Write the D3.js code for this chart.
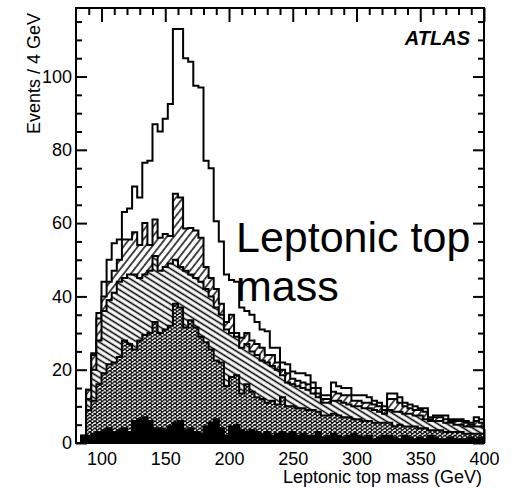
<!DOCTYPE html>
<html>
<head>
<meta charset="utf-8">
<script src="https://cdn.jsdelivr.net/npm/d3@7"></script>
<style>
  body { margin: 0; background: #fff; }
  svg { display: block; font-family: 'Liberation Sans', Arial, sans-serif; }
</style>
</head>
<body>
<svg id="svg" width="513" height="488"></svg>
<script>
const LEFT = 76
const RIGHT = 484
const TOP = 8
const BOTTOM = 443
const LINE_W = 2

const BIN_LO = 80
const BIN_W = 4

// stacked histograms, 4 GeV bins from 80 to 400 GeV
// every array is the sum of its own sample and all samples drawn below it
const totalTop = [
  0, 2, 14.5, 24.5, 35.5, 44, 50, 54.5, 55.5, 63,
  64, 70, 67, 76.5, 77, 87, 85, 88.5, 92.5, 113,
  113, 105, 104, 97.5, 97, 77, 75, 60.5, 55, 46,
  44.5, 44, 37, 36, 35, 33, 31, 30.5, 26, 26,
  22, 21.5, 19.5, 19, 19, 18.5, 16.5, 15, 13, 13,
  16.5, 15.5, 15, 15, 13, 13, 13, 12.5, 11.5, 11,
  10, 13.5, 13.5, 12.5, 11, 10.5, 10, 9.5, 9.5, 7,
  7.5, 7.5, 7.5, 6.5, 6.5, 6.5, 6, 5.5, 7, 6.5
]
const fwdTop = [
  0, 2, 14.5, 24, 34, 40, 44, 47, 50, 55.5,
  55.5, 57.5, 54, 60, 54, 61, 56, 57, 56.5, 68,
  67, 58.5, 58.7, 58, 56, 48, 45, 42, 38, 33,
  35, 30, 28.7, 30, 28, 27, 26, 24, 24, 22,
  20, 19, 17.5, 17, 16.5, 16, 15, 13.5, 12, 12,
  14, 13.5, 13, 13, 11.5, 11.5, 11, 11, 10.5, 10,
  9, 12, 12, 11, 10, 9.5, 9, 9, 8.5, 6.5,
  7, 7, 6.5, 6, 6, 6, 5.5, 5, 6, 5.5
]
const backTop = [
  0, 2, 12, 20, 28, 36, 39, 41, 44, 45,
  46, 46, 45, 46, 47, 51, 47, 48, 49, 50,
  48, 47, 46, 45, 44, 42, 40, 37, 35, 31,
  30, 29, 26, 27, 25, 24, 22.5, 22, 21, 20,
  18.5, 16.5, 16, 15.5, 15, 14.5, 13.5, 12.5, 11, 11,
  11.5, 11.5, 11, 10.5, 10, 10, 9.5, 9.5, 9, 8.5,
  8, 9, 8.5, 8.5, 8, 8, 7.5, 7.5, 6.5, 6,
  6, 6, 5.5, 5.5, 5, 5, 4.5, 4.5, 4.5, 4.5
]
const crossTop = [
  0, 1.5, 9, 11.5, 16, 19, 21.5, 22, 23.5, 28,
  27, 25.5, 28, 29.5, 30, 33, 30, 31, 32, 38,
  37, 31.5, 33.5, 31.5, 29, 27.5, 25.5, 22.5, 22, 15.5,
  18, 18.5, 13.5, 16, 14, 12.5, 12, 11, 11.5, 10.5,
  12.5, 10, 10, 9.5, 9.5, 9, 9, 8.5, 7.5, 7.5,
  8, 7.5, 7, 7, 6.5, 6.5, 6, 6, 5.5, 5.5,
  5.5, 5.5, 4.5, 5, 4.5, 4.5, 4.5, 4, 4, 3.5,
  3.5, 3.5, 3, 3, 3, 3, 2.5, 2.5, 2.5, 2.5
]
const blackTop = [
  0, 1.5, 2, 2.5, 3, 3.5, 4, 3, 3.5, 4,
  3, 6, 6.5, 7, 6, 4, 4, 3.5, 4.5, 5.5,
  6, 3.5, 4, 3, 2.5, 4.5, 5.5, 6.5, 4, 2,
  4.5, 5, 3.5, 3, 3.5, 3, 2.5, 3, 2, 2.5,
  3, 2.5, 3, 2, 2.5, 2, 2, 3, 1.5, 2,
  2.5, 2, 1.5, 2, 2.5, 2, 1.5, 2, 1, 1.5,
  2, 2, 1.5, 1, 2, 1.5, 1, 1.5, 1, 2,
  1.5, 1, 1, 1.5, 1, 1, 1, 1.5, 1, 1.5
]

const xMajor = [100, 150, 200, 250, 300, 350, 400]
const xMinor = [90, 110, 120, 130, 140, 160, 170, 180, 190, 210, 220, 230, 240,
  260, 270, 280, 290, 310, 320, 330, 340, 360, 370, 380, 390]
const yMajor = [0, 20, 40, 60, 80, 100]
const yMinor = [5, 10, 15, 25, 30, 35, 45, 50, 55, 65, 70, 75, 85, 90, 95, 105, 110, 115]

const svg = d3.select('svg')
const x = d3.scaleLinear().domain([80, 400]).range([LEFT, RIGHT])
const y = d3.scaleLinear().domain([0, 118.7]).range([BOTTOM, TOP])

const defs = svg.append('defs')

function hatch (id, size, angle, width) {
  const p = defs.append('pattern')
    .attr('id', id)
    .attr('patternUnits', 'userSpaceOnUse')
    .attr('width', size)
    .attr('height', size)
    .attr('patternTransform', 'rotate(' + angle + ')')
  p.append('rect').attr('width', size).attr('height', size).attr('fill', '#fff')
  p.append('line')
    .attr('x1', -1).attr('x2', size + 1)
    .attr('y1', size / 2).attr('y2', size / 2)
    .attr('stroke', '#000')
    .attr('stroke-width', width)
}
hatch('fwd', 5.6, -52, 1.4)
hatch('back', 5, 32, 1.6)

const cw = 5
const ch = 3.6
const cross = defs.append('pattern')
  .attr('id', 'cross')
  .attr('patternUnits', 'userSpaceOnUse')
  .attr('width', cw)
  .attr('height', ch)
cross.append('rect').attr('width', cw).attr('height', ch).attr('fill', '#fff')
cross.append('path')
  .attr('d', 'M0,0L' + cw + ',' + ch + 'M0,' + ch + 'L' + cw + ',0')
  .attr('stroke', '#000')
  .attr('stroke-width', 1.2)

defs.append('clipPath').attr('id', 'plot')
  .append('rect')
  .attr('x', LEFT).attr('y', TOP)
  .attr('width', RIGHT - LEFT).attr('height', BOTTOM - TOP)

// axes (ticks inside the frame, like ROOT)
function styleAxis (g) {
  g.select('.domain').remove()
  g.selectAll('.tick line').attr('stroke', '#000').attr('stroke-width', LINE_W)
  g.selectAll('.tick text').attr('fill', '#000').attr('font-size', 18)
    .attr('font-family', "'Liberation Sans', Arial, sans-serif")
}

svg.append('g').attr('transform', 'translate(0,' + BOTTOM + ')')
  .call(d3.axisBottom(x).tickValues(xMajor).tickSize(-14).tickPadding(9))
  .call(styleAxis)
svg.append('g').attr('transform', 'translate(0,' + BOTTOM + ')')
  .call(d3.axisBottom(x).tickValues(xMinor).tickSize(-7).tickFormat(''))
  .call(styleAxis)
svg.append('g').attr('transform', 'translate(0,' + TOP + ')')
  .call(d3.axisTop(x).tickValues(xMajor).tickSize(-14).tickFormat(''))
  .call(styleAxis)
svg.append('g').attr('transform', 'translate(0,' + TOP + ')')
  .call(d3.axisTop(x).tickValues(xMinor).tickSize(-7).tickFormat(''))
  .call(styleAxis)
svg.append('g').attr('transform', 'translate(' + LEFT + ',0)')
  .call(d3.axisLeft(y).tickValues(yMajor).tickSize(-11).tickPadding(4))
  .call(styleAxis)
svg.append('g').attr('transform', 'translate(' + LEFT + ',0)')
  .call(d3.axisLeft(y).tickValues(yMinor).tickSize(-6).tickFormat(''))
  .call(styleAxis)
svg.append('g').attr('transform', 'translate(' + RIGHT + ',0)')
  .call(d3.axisRight(y).tickValues(yMajor).tickSize(-11).tickFormat(''))
  .call(styleAxis)
svg.append('g').attr('transform', 'translate(' + RIGHT + ',0)')
  .call(d3.axisRight(y).tickValues(yMinor).tickSize(-6).tickFormat(''))
  .call(styleAxis)

// histograms, biggest sum first so lower samples sit on top of it
const stepArea = d3.area()
  .curve(d3.curveStepAfter)
  .x(d => x(d[0]))
  .y0(y(0))
  .y1(d => y(d[1]))

function toSteps (vals) {
  const pts = vals.map((v, i) => [BIN_LO + i * BIN_W, v])
  pts.push([BIN_LO + vals.length * BIN_W, vals[vals.length - 1]])
  return pts
}

const layers = [
  { vals: totalTop, fill: '#fff' },
  { vals: fwdTop, fill: 'url(#fwd)' },
  { vals: backTop, fill: 'url(#back)' },
  { vals: crossTop, fill: 'url(#cross)' },
  { vals: blackTop, fill: '#000' }
]

const hg = svg.append('g').attr('clip-path', 'url(#plot)')
hg.selectAll('path')
  .data(layers)
  .join('path')
  .attr('d', d => stepArea(toSteps(d.vals)))
  .attr('fill', d => d.fill)
  .attr('stroke', '#000')
  .attr('stroke-width', LINE_W)
  .attr('stroke-linejoin', 'miter')

// frame
svg.append('rect')
  .attr('x', LEFT).attr('y', TOP)
  .attr('width', RIGHT - LEFT).attr('height', BOTTOM - TOP)
  .attr('fill', 'none')
  .attr('stroke', '#000')
  .attr('stroke-width', 2)

// titles
svg.append('text')
  .attr('x', 482).attr('y', 483)
  .attr('text-anchor', 'end')
  .attr('font-size', 18)
  .text('Leptonic top mass (GeV)')

svg.append('text')
  .attr('transform', 'translate(40,13) rotate(-90)')
  .attr('text-anchor', 'end')
  .attr('font-size', 18)
  .text('Events / 4 GeV')

svg.append('text')
  .attr('x', 470).attr('y', 45)
  .attr('text-anchor', 'end')
  .attr('font-size', 20)
  .attr('font-weight', 'bold')
  .attr('font-style', 'italic')
  .text('ATLAS')

svg.append('text')
  .attr('x', 236).attr('y', 252)
  .attr('font-size', 43)
  .text('Leptonic top')
svg.append('text')
  .attr('x', 236).attr('y', 301)
  .attr('font-size', 43)
  .text('mass')
</script>
</body>
</html>
